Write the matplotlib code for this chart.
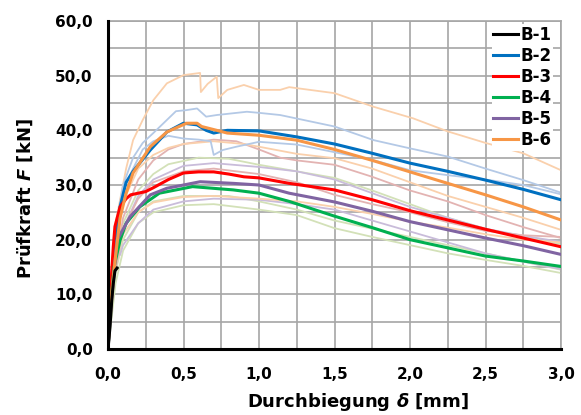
import matplotlib
matplotlib.use("Agg")
import matplotlib.pyplot as plt
from matplotlib.ticker import MultipleLocator, FuncFormatter

# main series (mean curves)
b1_d = [0.0, 0.005, 0.013, 0.025, 0.035, 0.046, 0.06]
b1_f = [0.0, 1.5, 4.0, 9.0, 12.0, 14.3, 14.8]

b2_d = [0.0, 0.015, 0.03, 0.046, 0.08, 0.12, 0.166, 0.28, 0.39, 0.5, 0.59, 0.65, 0.7, 0.79,
        1.0, 1.25, 1.5, 1.75, 2.0, 2.25, 2.5, 2.75, 3.0]
b2_f = [0.0, 8.0, 15.0, 19.9, 26.0, 30.5, 32.5, 36.4, 39.7, 41.3, 41.0, 40.0, 39.5, 40.0,
        39.9, 38.8, 37.5, 35.8, 34.0, 32.5, 30.9, 29.2, 27.3]

b3_d = [0.0, 0.02, 0.035, 0.046, 0.08, 0.12, 0.15, 0.25, 0.3, 0.4, 0.5, 0.6, 0.7, 0.8, 0.9,
        1.0, 1.2, 1.4, 1.5, 1.75, 2.0, 2.25, 2.5, 2.75, 3.0]
b3_f = [0.0, 12.0, 18.7, 22.4, 26.0, 27.5, 28.2, 28.8, 29.5, 31.0, 32.2, 32.4, 32.4, 32.0, 31.5,
        31.3, 30.3, 29.5, 29.1, 27.3, 25.3, 23.6, 21.9, 20.3, 18.7]

b4_d = [0.0, 0.02, 0.04, 0.08, 0.12, 0.21, 0.34, 0.56, 0.83, 1.0, 1.2, 1.5, 1.75, 2.0,
        2.25, 2.5, 2.75, 3.0]
b4_f = [0.0, 9.0, 15.0, 19.9, 23.0, 26.0, 28.5, 29.7, 29.1, 28.5, 27.0, 24.3, 22.2, 20.0,
        18.5, 17.0, 16.1, 15.1]

b5_d = [0.0, 0.02, 0.04, 0.06, 0.146, 0.28, 0.39, 0.61, 0.83, 1.0, 1.2, 1.5, 1.75, 2.0,
        2.25, 2.5, 2.75, 3.0]
b5_f = [0.0, 8.0, 14.0, 19.9, 24.2, 28.2, 29.4, 30.6, 30.3, 30.0, 28.5, 26.9, 25.2, 23.3,
        21.8, 20.3, 18.9, 17.3]

b6_d = [0.0, 0.02, 0.05, 0.08, 0.12, 0.166, 0.28, 0.39, 0.52, 0.59, 0.62, 0.72, 0.79, 1.0,
        1.25, 1.5, 1.75, 2.0, 2.25, 2.5, 2.75, 3.0]
b6_f = [0.0, 9.0, 17.0, 24.0, 28.5, 32.2, 37.0, 39.7, 41.3, 41.3, 40.7, 40.0, 39.5, 39.1,
        38.2, 36.5, 34.5, 32.4, 30.3, 28.2, 26.0, 23.6]

# single specimens (pale curves)
p6a_d = [0.0, 0.02, 0.05, 0.08, 0.12, 0.166, 0.23, 0.3, 0.39, 0.5, 0.61, 0.615, 0.66, 0.72,
         0.73, 0.79, 0.9, 1.0, 1.14, 1.2, 1.5, 1.76, 2.02, 2.25, 2.5, 2.75, 3.0]
p6a_f = [0.0, 14.0, 23.0, 27.3, 33.0, 38.2, 41.9, 45.5, 48.6, 50.1, 50.5, 47.0, 48.5, 49.8,
         45.9, 47.4, 48.3, 47.4, 47.4, 47.9, 46.8, 44.3, 42.2, 39.8, 37.7, 35.8, 32.7]

p6b_d = [0.0, 0.03, 0.1, 0.2, 0.3, 0.4, 0.5, 0.7, 0.9, 1.0, 1.25, 1.5, 1.75, 2.0, 2.25,
         2.5, 2.75, 3.0]
p6b_f = [0.0, 14.0, 27.0, 33.0, 35.5, 36.8, 37.5, 38.0, 37.5, 37.0, 35.7, 34.9, 33.0, 30.5,
         28.0, 26.0, 24.0, 21.8]

p6c_d = [0.0, 0.05, 0.1, 0.2, 0.3, 0.5, 0.7, 1.0, 1.25, 1.5, 1.75, 2.0, 2.25, 2.5, 2.75, 3.0]
p6c_f = [0.0, 16.0, 21.0, 25.0, 26.8, 27.8, 28.0, 27.5, 27.0, 26.0, 24.7, 23.3, 22.2, 21.0,
         20.0, 19.5]

p2a_d = [0.0, 0.02, 0.05, 0.1, 0.166, 0.23, 0.3, 0.39, 0.45, 0.52, 0.59, 0.65, 0.72, 0.92,
         1.0, 1.14, 1.5, 1.76, 2.0, 2.25, 2.5, 2.75, 3.0]
p2a_f = [0.0, 12.0, 22.0, 30.0, 35.0, 37.7, 39.5, 41.9, 43.5, 43.7, 44.0, 42.5, 42.8, 43.4,
         43.2, 42.8, 40.7, 38.2, 36.7, 35.2, 33.0, 30.9, 28.6]

p2b_d = [0.0, 0.02, 0.05, 0.1, 0.166, 0.23, 0.3, 0.4, 0.5, 0.6, 0.68, 0.7, 0.76, 0.85, 1.0,
         1.25, 1.5, 1.75, 2.0, 2.25, 2.5, 2.75, 3.0]
p2b_f = [0.0, 11.0, 21.0, 29.0, 33.0, 36.5, 38.0, 39.0, 38.5, 38.3, 38.0, 35.5, 36.4, 37.0,
         37.9, 37.4, 36.0, 34.6, 32.7, 31.8, 31.0, 30.0, 28.3]

p3a_d = [0.0, 0.04, 0.1, 0.2, 0.3, 0.4, 0.5, 0.7, 0.85, 1.0, 1.14, 1.25, 1.5, 1.75, 2.0,
         2.25, 2.5, 2.75, 3.0]
p3a_f = [0.0, 14.0, 24.0, 31.0, 34.5, 36.5, 37.5, 38.3, 38.0, 36.5, 35.0, 34.5, 33.7, 31.5,
         29.0, 27.0, 24.5, 22.3, 20.3]

p3b_d = [0.0, 0.04, 0.1, 0.2, 0.3, 0.5, 0.7, 1.0, 1.25, 1.5, 1.75, 2.0, 2.25, 2.5, 2.75, 3.0]
p3b_f = [0.0, 13.0, 22.0, 27.5, 30.5, 32.5, 33.0, 32.0, 30.5, 28.2, 26.5, 25.0, 23.2, 21.6,
         20.8, 20.5]

p4a_d = [0.0, 0.05, 0.1, 0.2, 0.3, 0.4, 0.6, 0.8, 1.0, 1.25, 1.5, 1.75, 2.0, 2.25, 2.5,
         2.75, 3.0]
p4a_f = [0.0, 15.0, 23.0, 29.0, 32.0, 33.8, 35.0, 34.8, 33.7, 32.5, 31.3, 29.0, 26.5, 24.0,
         22.0, 20.5, 19.2]

p4b_d = [0.0, 0.05, 0.1, 0.2, 0.3, 0.5, 0.7, 1.0, 1.25, 1.5, 1.75, 2.0, 2.25, 2.5, 2.75, 3.0]
p4b_f = [0.0, 12.0, 18.0, 23.0, 25.0, 26.3, 26.5, 25.5, 24.5, 22.1, 20.5, 19.0, 17.5, 16.3,
         15.2, 13.9]

p4c_d = [0.0, 0.05, 0.1, 0.2, 0.3, 0.5, 0.8, 1.0, 1.25, 1.5, 1.75, 2.0, 2.5, 3.0]
p4c_f = [0.0, 14.0, 20.0, 25.0, 27.0, 28.0, 28.0, 27.0, 25.5, 23.5, 22.0, 20.5, 17.5, 14.5]

p5a_d = [0.0, 0.03, 0.06, 0.1, 0.2, 0.3, 0.5, 0.7, 1.0, 1.25, 1.5, 1.75, 2.0, 2.25, 2.5,
         2.75, 3.0]
p5a_f = [0.0, 11.0, 17.0, 22.0, 28.0, 31.0, 33.5, 34.0, 33.3, 32.5, 31.0, 28.5, 26.0, 24.0,
         22.0, 20.7, 19.6]

p5b_d = [0.0, 0.03, 0.05, 0.08, 0.1, 0.2, 0.3, 0.5, 0.7, 1.0, 1.25, 1.5, 1.75, 2.0, 2.25,
         2.5, 2.75, 3.0]
p5b_f = [0.0, 12.0, 18.5, 17.2, 19.0, 23.0, 25.5, 27.0, 27.5, 27.3, 26.5, 25.5, 23.5, 21.5,
         19.5, 17.5, 16.0, 14.6]

labels = ["B-1", "B-2", "B-3", "B-4", "B-5", "B-6"]
main_colors = ["#000000", "#0070C0", "#FF0000", "#00B050", "#8064A2", "#F79646"]
peach, pblue, prose, pgreen, ppurple = "#FAD0AC", "#B4C9E6", "#E3B3B2", "#D3E1B8", "#C9BCDA"

plt.rcParams["font.family"] = "DejaVu Sans"
plt.rcParams["font.weight"] = "bold"
plt.rcParams["mathtext.fontset"] = "custom"
plt.rcParams["mathtext.it"] = "DejaVu Sans:italic:bold"
plt.rcParams["mathtext.rm"] = "DejaVu Sans:bold"

fig = plt.figure(figsize=(5.81, 4.15), dpi=100)
ax = fig.add_axes([108 / 581, 1 - 349 / 415, 453 / 581, 328 / 415])

pale = [
    (p4b_d, p4b_f, pgreen), (p4c_d, p4c_f, pgreen), (p4a_d, p4a_f, pgreen),
    (p5b_d, p5b_f, ppurple), (p5a_d, p5a_f, ppurple),
    (p3b_d, p3b_f, prose), (p3a_d, p3a_f, prose),
    (p6c_d, p6c_f, peach), (p6b_d, p6b_f, peach), (p6a_d, p6a_f, peach),
    (p2b_d, p2b_f, pblue), (p2a_d, p2a_f, pblue),
]
for d, f, c in pale:
    ax.plot(d, f, color=c, lw=1.3, zorder=2)

mains = [(b1_d, b1_f), (b2_d, b2_f), (b3_d, b3_f), (b4_d, b4_f), (b5_d, b5_f), (b6_d, b6_f)]
order = [1, 2, 3, 4, 5, 0]
lines = {}
for i in order:
    d, f = mains[i]
    lines[i], = ax.plot(d, f, color=main_colors[i], lw=2.2, label=labels[i], zorder=3)

ax.set_xlim(0, 3.0)
ax.set_ylim(0, 60)
ax.xaxis.set_major_locator(MultipleLocator(0.5))
ax.xaxis.set_minor_locator(MultipleLocator(0.25))
ax.yaxis.set_major_locator(MultipleLocator(10))
ax.yaxis.set_minor_locator(MultipleLocator(5))
ax.xaxis.set_major_formatter(FuncFormatter(lambda v, p: f"{v:.1f}".replace(".", ",")))
ax.yaxis.set_major_formatter(FuncFormatter(lambda v, p: f"{v:.1f}".replace(".", ",")))
ax.grid(True, which="both", color="#A6A6A6", lw=1.2, zorder=0)
ax.set_axisbelow(True)
ax.tick_params(which="both", length=0, labelsize=11)
ax.tick_params(axis="y", pad=11)
ax.tick_params(axis="x", pad=13)

for s in ["left", "bottom"]:
    ax.spines[s].set_color("black")
    ax.spines[s].set_linewidth(2.2)
    ax.spines[s].set_zorder(4)
for s in ["top", "right"]:
    ax.spines[s].set_color("#A6A6A6")
    ax.spines[s].set_linewidth(1.2)

ax.set_xlabel(r"Durchbiegung $\mathit{\delta}$ [mm]", fontsize=13, fontweight="bold")
ax.set_ylabel(r"Prüfkraft $\mathit{F}$ [kN]", fontsize=13, fontweight="bold")
ax.xaxis.set_label_coords(0.553, -0.128)
ax.yaxis.set_label_coords(-0.161, 0.459)

leg = ax.legend([lines[i] for i in range(6)], labels, loc="upper right",
                bbox_to_anchor=(0.982, 0.99), fontsize=12, frameon=True,
                borderpad=0.1, handlelength=1.5, handletextpad=0.1,
                labelspacing=0.18, borderaxespad=0)
leg.get_frame().set_facecolor("white")
leg.get_frame().set_edgecolor("none")
leg.get_frame().set_alpha(1)
leg.get_frame().set_boxstyle("square", pad=0)

fig.savefig("out.png", dpi=100)
